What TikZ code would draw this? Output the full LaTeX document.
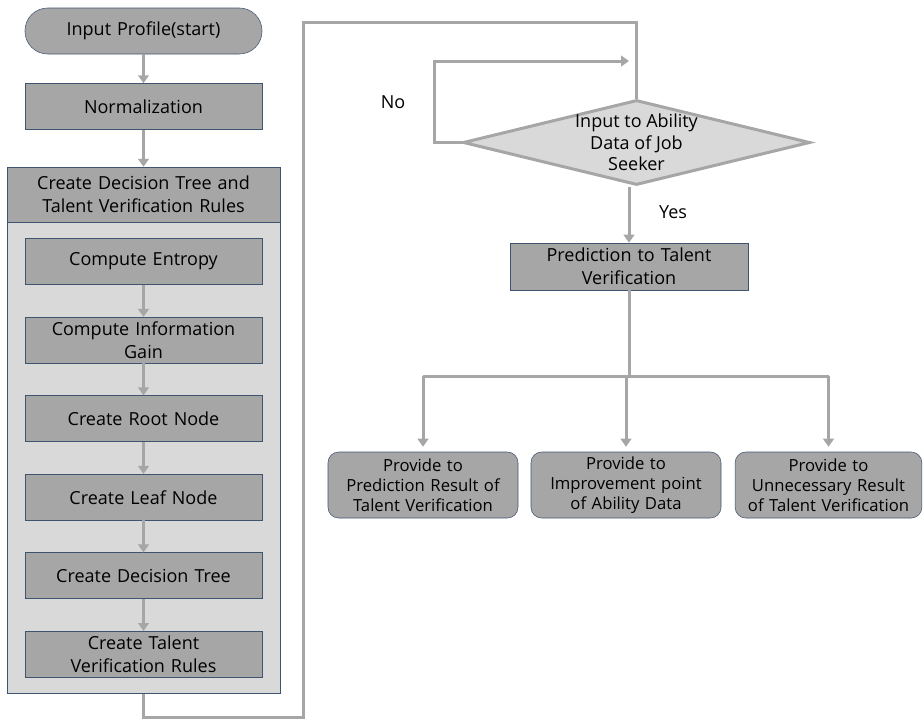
\documentclass[tikz,border=0pt]{standalone}
\usepackage{fontspec}
\setmainfont{Open Sans}
\usetikzlibrary{shapes.geometric, positioning, arrows.meta}

\definecolor{boxgray}{HTML}{A6A6A6}
\definecolor{panelgray}{HTML}{D9D9D9}
\definecolor{edge}{HTML}{41546F}
\definecolor{linegray}{HTML}{A6A6A6}

\begin{document}
\begin{tikzpicture}[x=0.75pt,y=-0.75pt,node distance=24pt,>={Triangle[width=8pt,length=6pt]}]
    \tikzstyle{block} = [rectangle,minimum width=177.75pt,minimum height=34.5pt,text width=174pt,align=center,draw=edge,fill=boxgray,inner sep=0pt,font=\fontsize{13.5}{17}\selectfont]
    \tikzstyle{term} = [block,rounded corners=17pt]
    \tikzstyle{panel} = [rectangle,minimum width=204.75pt,text width=200pt,align=center,draw=edge,fill=panelgray,inner sep=0pt,font=\fontsize{13.5}{17.25}\selectfont]
    \tikzstyle{decision} = [diamond,minimum width=260.25pt,minimum height=63.75pt,inner sep=0pt,draw=linegray,line width=2.25pt,fill=panelgray]
    \tikzstyle{result} = [block,rounded corners=8pt,minimum width=142.5pt,minimum height=49.5pt,text width=140pt,font=\fontsize{12.5}{15}\selectfont]
    \tikzstyle{line} = [draw=linegray,line width=2.25pt]

    \useasboundingbox (0,0) rectangle (923,721);

    \node (start) [term] at (143.5,31) {Input Profile(start)};
    \node (norm) [block,below=21.75pt of start] {Normalization};
    \draw [line,->] (start) -- (norm);

    \node (hdr) [panel,fill=boxgray,minimum height=41.25pt,below=27.75pt of norm] {Create Decision Tree and\\Talent Verification Rules};
    \draw [line,->] (norm) -- (hdr);
    \node (body) [panel,minimum height=353.25pt,below=0pt of hdr] {};

    \node (entropy) [block,below=12pt of hdr] {Compute Entropy};
    \node (gain) [block,below=of entropy] {Compute Information\\Gain};
    \draw [line,->] (entropy) -- (gain);
    \node (root) [block,below=of gain] {Create Root Node};
    \draw [line,->] (gain) -- (root);
    \node (leaf) [block,below=of root] {Create Leaf Node};
    \draw [line,->] (root) -- (leaf);
    \node (tree) [block,below=of leaf] {Create Decision Tree};
    \draw [line,->] (leaf) -- (tree);
    \node (rules) [block,below=of tree] {Create Talent\\Verification Rules};
    \draw [line,->] (tree) -- (rules);

    \node (dec) [decision] at (636.5,142.5) {};
    \node (ask) [align=center,font=\fontsize{13.5}{16}\selectfont] at (dec.center) {Input to Ability\\Data of Job\\Seeker};

    \coordinate (low) at (303,717);
    \coordinate (high) at (303,22);
    \draw [line] (body.south) |- (low) -- (high) -| (dec.north);

    \coordinate (back) at (434,61);
    \coordinate (noend) at (629,61);
    \draw [line,->] (dec.west) -| (back) -- (noend);
    \node (no) [font=\fontsize{13.5}{16}\selectfont] at (393,102) {No};

    \node (pred) [block,minimum width=178.5pt,minimum height=35.25pt] at (629,266.5) {Prediction to Talent\\Verification};
    \draw [line,->] (dec.south -| pred.north) -- (pred.north);
    \node (yes) [font=\fontsize{13.5}{16}\selectfont] at (673,212) {Yes};

    \node (out1) [result] at (423,485) {Provide to\\Prediction Result of\\Talent Verification};
    \node (out2) [result] at (626,485) {Provide to\\Improvement point\\of Ability Data};
    \node (out3) [result,minimum width=138.75pt] at (828.5,485) {Provide to\\Unnecessary Result\\of Talent Verification};

    \coordinate (split) at (629,376);
    \draw [line] (pred.south) -- (split);
    \draw [line] (out1.north |- split) -- (out3.north |- split);
    \draw [line,->,shorten >=3.75pt] (out1.north |- split) -- (out1.north);
    \draw [line,->,shorten >=3.75pt] (out2.north |- split) -- (out2.north);
    \draw [line,->,shorten >=3.75pt] (out3.north |- split) -- (out3.north);

\end{tikzpicture}
\end{document}
